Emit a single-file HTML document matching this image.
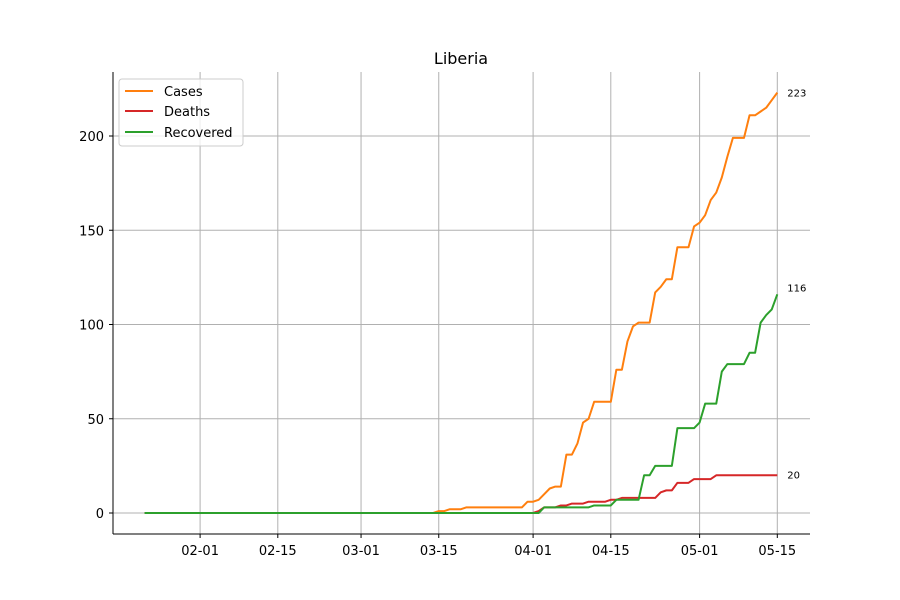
<!DOCTYPE html>
<html><head><meta charset="utf-8"><style>
body{margin:0;background:#fff;}
svg{display:block;font-family:"DejaVu Sans","Liberation Sans",sans-serif;}
</style></head><body>
<svg id="chart" width="900" height="600" viewBox="0 0 900 600">
<rect width="900" height="600" fill="#fff"/>
<text x="461" y="64" text-anchor="middle" font-size="16" fill="#000">Liberia</text>
<g id="grid"></g>
<g id="series"></g>
<g id="axes"></g>
<g>
<rect x="119" y="79" width="124" height="67" rx="3" fill="#fff" fill-opacity="0.8" stroke="#ccc"/>
<g><line x1="125" y1="91" x2="153" y2="91" stroke="#ff7f0e" stroke-width="2"/><text x="164" y="96" font-size="13">Cases</text></g>
<g><line x1="125" y1="111" x2="153" y2="111" stroke="#d62728" stroke-width="2"/><text x="164" y="116" font-size="13">Deaths</text></g>
<g><line x1="125" y1="132" x2="153" y2="132" stroke="#2ca02c" stroke-width="2"/><text x="164" y="137" font-size="13">Recovered</text></g>
</g>
</svg>
<script>
const xTickLabels=["02-01","02-15","03-01","03-15","04-01","04-15","05-01","05-15"];
const xTickIdx=[10,24,39,53,70,84,100,114];
const yTicks=[0,50,100,150,200];
const casesTail=[1,1,2,2,2,3,3,3,3,3,3,3,3,3,3,3,6,6,7,10,13,14,14,31,31,37,48,50,59,59,59,59,76,76,91,99,101,101,101,117,120,124,124,141,141,141,152,154,158,166,170,178,189,199,199,199,211,211,213,215,219,223];
const deathsTail=[1,3,3,3,4,4,5,5,5,6,6,6,6,7,7,8,8,8,8,8,8,8,11,12,12,16,16,16,18,18,18,18,20,20,20,20,20,20,20,20,20,20,20,20];
const recoveredTail=[3,3,3,3,3,3,3,3,3,4,4,4,4,7,7,7,7,7,20,20,25,25,25,25,45,45,45,45,48,58,58,58,75,79,79,79,79,85,85,101,105,108,116];
const N=115;
function pad(t){const a=new Array(N-t.length).fill(0);return a.concat(t);}
const cases=pad(casesTail), deaths=pad(deathsTail), recovered=pad(recoveredTail);
const X=i=>144.6+5.55*i;
const Y=v=>513-1.885*v;
const NS="http://www.w3.org/2000/svg";
function mk(tag,attrs,parent){const e=document.createElementNS(NS,tag);for(const k in attrs)e.setAttribute(k,attrs[k]);parent.appendChild(e);return e;}
const grid=document.getElementById('grid'),axes=document.getElementById('axes'),ser=document.getElementById('series');
xTickIdx.forEach((d,k)=>{
 const x=X(d);
 const g=mk('line',{x1:x,x2:x,y1:72,y2:534,stroke:'#b0b0b0','stroke-width':1},grid);
 
 
 mk('line',{x1:x,x2:x,y1:534,y2:538,stroke:'#000'},axes);
 const t=mk('text',{x:x,y:555,'text-anchor':'middle','font-size':13},axes);
 t.textContent=xTickLabels[k];
 
 
});
yTicks.forEach(v=>{
 const y=Y(v);
 const g=mk('line',{x1:113,x2:810,y1:y,y2:y,stroke:'#b0b0b0','stroke-width':1},grid);
 
 
 mk('line',{x1:109,x2:113,y1:y,y2:y,stroke:'#000'},axes);
 const t=mk('text',{x:104,y:y+5,'text-anchor':'end','font-size':13},axes);
 t.textContent=v;
 
 
});
const sl=mk('line',{x1:113,x2:113,y1:72,y2:534,stroke:'#000'},axes);


const sb=mk('line',{x1:113,x2:810,y1:534,y2:534,stroke:'#000'},axes);


function draw(arr,color,name,dy){
 const p=mk('polyline',{points:arr.map((v,i)=>X(i)+','+Y(v)).join(' '),fill:'none',stroke:color,'stroke-width':2,'stroke-linejoin':'round'},ser);
 
 
 const last=arr[arr.length-1];
 const t=mk('text',{x:X(arr.length-1)+10,y:Y(last)+4+dy,'font-size':10},ser);
 t.textContent=last;
 
 
}
draw(cases,'#ff7f0e','cases',0);
draw(deaths,'#d62728','deaths',-1);
draw(recovered,'#2ca02c','recovered',-7);
</script>
</body></html>
